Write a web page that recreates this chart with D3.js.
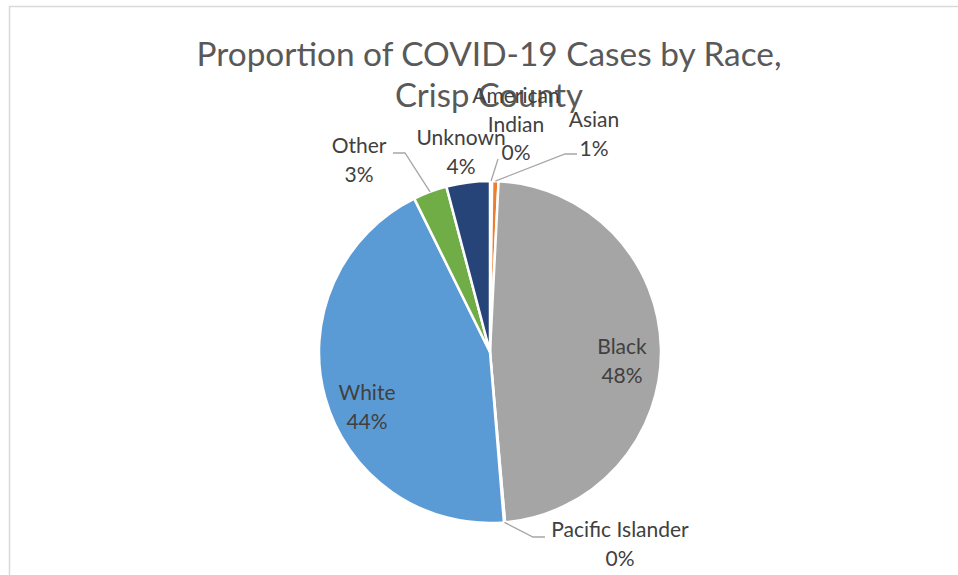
<!DOCTYPE html>
<html>
<head>
<meta charset="utf-8">
<script src="https://cdn.jsdelivr.net/npm/d3@7"></script>
<style>
  body { margin: 0; background: #fff; }
  text { font-family: Lato, "Open Sans", sans-serif; }
</style>
</head>
<body>
<svg id="chart"></svg>
<script>
// data (percent of cases)
var races = ["American Indian", "Asian", "Black", "Pacific Islander", "White", "Other", "Unknown"];
var shares = [0.2, 0.6, 47.8, 0.1, 44.0, 3.2, 4.1];
var pctLabels = ["0%", "1%", "48%", "0%", "44%", "3%", "4%"];
var nameLines = [["American", "Indian"], ["Asian"], ["Black"], ["Pacific Islander"], ["White"], ["Other"], ["Unknown"]];
var titleLines = ["Proportion of COVID-19 Cases by Race,", "Crisp County"];

var colors = ["#4472C4", "#ED7D31", "#A5A5A5", "#FFC000", "#5B9BD5", "#70AD47", "#264478"];

var width = 958, height = 575;
var cx = 490, cy = 352, radius = 171;

// label placement relative to the pie centre: x, first baseline, leader start / elbow
var labelLayout = [
  { x: 26, y: -249, leader: [[8, -193]] },
  { x: 104, y: -225, leader: [[87, -198], [75, -198]] },
  { x: 132, y: 2 },
  { x: 130, y: 185, leader: [[55, 185], [43, 185]] },
  { x: -123, y: 48 },
  { x: -131, y: -199, leader: [[-97, -199], [-85, -199]] },
  { x: -29, y: -207 }
];
var lineH = 28.5;

var svg = d3.select("#chart").attr("width", width).attr("height", height);

// chart frame
svg.append("rect")
  .attr("x", 9.5).attr("y", 6.5)
  .attr("width", 1000).attr("height", 1000)
  .attr("fill", "#fff")
  .attr("stroke", "#d9d9d9").attr("stroke-width", 1.5);

var title = svg.append("g").attr("fill", "#595959");
title.append("text")
  .attr("x", 489).attr("y", 66)
  .attr("text-anchor", "middle")
  .attr("font-size", 33)
  .attr("textLength", 585).attr("lengthAdjust", "spacingAndGlyphs")
  .text(titleLines[0]);
title.append("text")
  .attr("x", 489).attr("y", 107)
  .attr("text-anchor", "middle")
  .attr("font-size", 33)
  .attr("textLength", 188).attr("lengthAdjust", "spacingAndGlyphs")
  .text(titleLines[1]);

var pie = d3.pie().sort(null).value(function (d) { return d; });
var arcs = pie(shares);
var arc = d3.arc().innerRadius(0).outerRadius(radius);

var g = svg.append("g").attr("transform", "translate(" + cx + "," + cy + ")");

g.selectAll("path.slice")
  .data(arcs)
  .enter().append("path")
  .attr("class", "slice")
  .attr("d", arc)
  .attr("fill", function (d, i) { return colors[i]; })
  .attr("stroke", "#fff")
  .attr("stroke-width", 2.5)
  .attr("stroke-linejoin", "round");

// leader lines go to the slice edge at its mid angle
function edgePoint(d) {
  var a = (d.startAngle + d.endAngle) / 2;
  return [radius * Math.sin(a), -radius * Math.cos(a)];
}
var line = d3.line();
g.selectAll("path.leader")
  .data(arcs.filter(function (d, i) { return labelLayout[i].leader; }))
  .enter().append("path")
  .attr("class", "leader")
  .attr("fill", "none")
  .attr("stroke", "#a6a6a6")
  .attr("stroke-width", 1.3)
  .attr("d", function (d) {
    return line(labelLayout[d.index].leader.concat([edgePoint(d)]));
  });

var labels = g.selectAll("text.lbl")
  .data(arcs)
  .enter().append("text")
  .attr("class", "lbl")
  .attr("text-anchor", "middle")
  .attr("font-size", 21)
  .attr("fill", "#404040");

labels.each(function (d, i) {
  var t = d3.select(this);
  var lines = nameLines[i].concat([pctLabels[i]]);
  lines.forEach(function (s, k) {
    t.append("tspan")
      .attr("x", labelLayout[i].x)
      .attr("y", labelLayout[i].y + k * lineH)
      .text(s);
  });
});
</script>
</body>
</html>
